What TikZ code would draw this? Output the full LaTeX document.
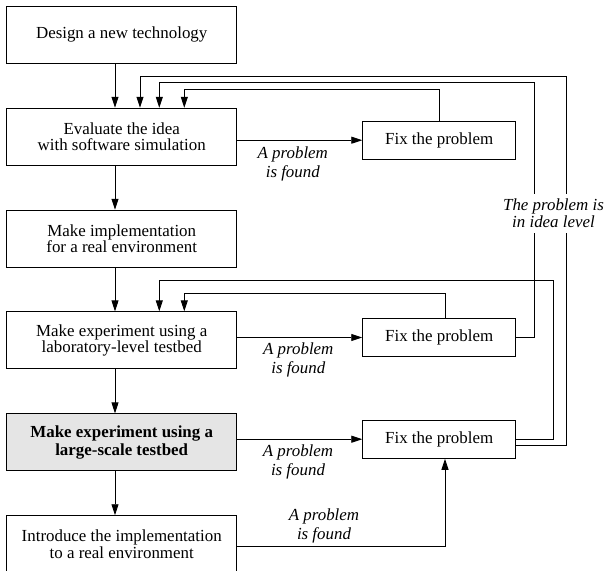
\documentclass[tikz,border=0pt]{standalone}
\usepackage{fontspec}
\setmainfont{Liberation Serif}
\usetikzlibrary{arrows.meta}
\definecolor{boxgray}{HTML}{E5E5E5}
\begin{document}
\begin{tikzpicture}[x=1pt,y=-1pt,line width=0.9pt,
  stepbox/.style={draw, minimum width=230pt, minimum height=57pt, align=center,
    inner sep=0pt, font=\fontsize{16.9}{16.5}\selectfont},
  fixbox/.style={draw, minimum width=153pt, minimum height=38.3pt,
    inner sep=0pt, font=\fontsize{16.9}{16.5}\selectfont},
  note/.style={align=center, inner sep=0pt, font=\itshape\fontsize{16.9}{18.8}\selectfont},
  flow/.style={-{Triangle[length=11pt,width=7pt]}}]
\clip (0,0) rectangle (606,571);

% main column of steps
\node[stepbox] (design) at (121.7,34.7) {Design a new technology};
\node[stepbox] (eval)   at (121.7,136.7) {Evaluate the idea\\with software simulation};
\node[stepbox] (impl)   at (121.7,238.7) {Make implementation\\for a real environment};
\node[stepbox] (lab)    at (121.7,340.3) {Make experiment using a\\laboratory-level testbed};
\node[stepbox, fill=boxgray, font=\bfseries\fontsize{16.9}{17.5}\selectfont]
                (large) at (121.7,442.3) {Make experiment using a\\large-scale testbed};
\node[stepbox, font=\fontsize{16.9}{17.3}\selectfont]
                (intro) at (121.7,544.2) {Introduce the implementation\\to a real environment};

% fixing steps
\node[fixbox] (fix1) at (439.2,140.2) {Fix the problem};
\node[fixbox] (fix2) at (439.2,337.5) {Fix the problem};
\node[fixbox] (fix3) at (439.2,439.2) {Fix the problem};

% downward flow
\draw[flow] ([xshift=-6.7pt]design.south) -- ([xshift=-6.7pt]eval.north);
\draw[flow] ([xshift=-6.7pt]eval.south)   -- ([xshift=-6.7pt]impl.north);
\draw[flow] ([xshift=-6.7pt]impl.south)   -- ([xshift=-6.7pt]lab.north);
\draw[flow] ([xshift=-6.7pt]lab.south)    -- ([xshift=-6.7pt]large.north);
\draw[flow] ([xshift=-6.7pt]large.south)  -- ([xshift=-6.7pt]intro.north);

% problem found: go to a fix
\draw[flow] (eval.east |- fix1.west)  -- (fix1.west);
\draw[flow] (lab.east |- fix2.west)   -- (fix2.west);
\draw[flow] (large.east |- fix3.west) -- (fix3.west);
\coordinate (b) at (445,546.7);
\draw[flow] (intro.east |- b) -- (b) -- (b |- fix3.south);

\node[note] (n1) at (292.8,163.8) {A problem\\is found};
\node[note] (n2) at (298.3,360.3) {A problem\\is found};
\node[note] (n3) at (298.0,462.2) {A problem\\is found};
\node[note] (n4) at (324.0,526.3) {A problem\\is found};

% feedback loops
\coordinate (c1) at (184.3,89.3);
\draw[flow] (fix1.north) |- (c1) -- (c1 |- eval.north);

\coordinate (r2) at (534.3,82.7);
\coordinate (a2) at (159.3,82.7);
\draw[flow] (fix2.east) -| (r2) -- (a2) -- (a2 |- eval.north);

\coordinate (r3) at (566,76);
\coordinate (a3) at (140,76);
\draw[flow] ([yshift=-5.8pt]fix3.east) -| (r3) -- (a3) -- (a3 |- eval.north);

\coordinate (r4) at (553.3,280);
\coordinate (a4) at (159.3,280);
\draw[flow] (fix3.east) -| (r4) -- (a4) -- (a4 |- lab.north);

\coordinate (t2) at (445,293);
\coordinate (a5) at (184.3,293);
\draw[flow] (fix2.north -| t2) -- (t2) -- (a5) -- (a5 |- lab.north);

\node[note, fill=white, inner xsep=0pt, inner ysep=5pt,
      font=\itshape\fontsize{16.9}{16.7}\selectfont]
      (idea) at (553.5,213.3) {The problem is\\in idea level};
\end{tikzpicture}
\end{document}
